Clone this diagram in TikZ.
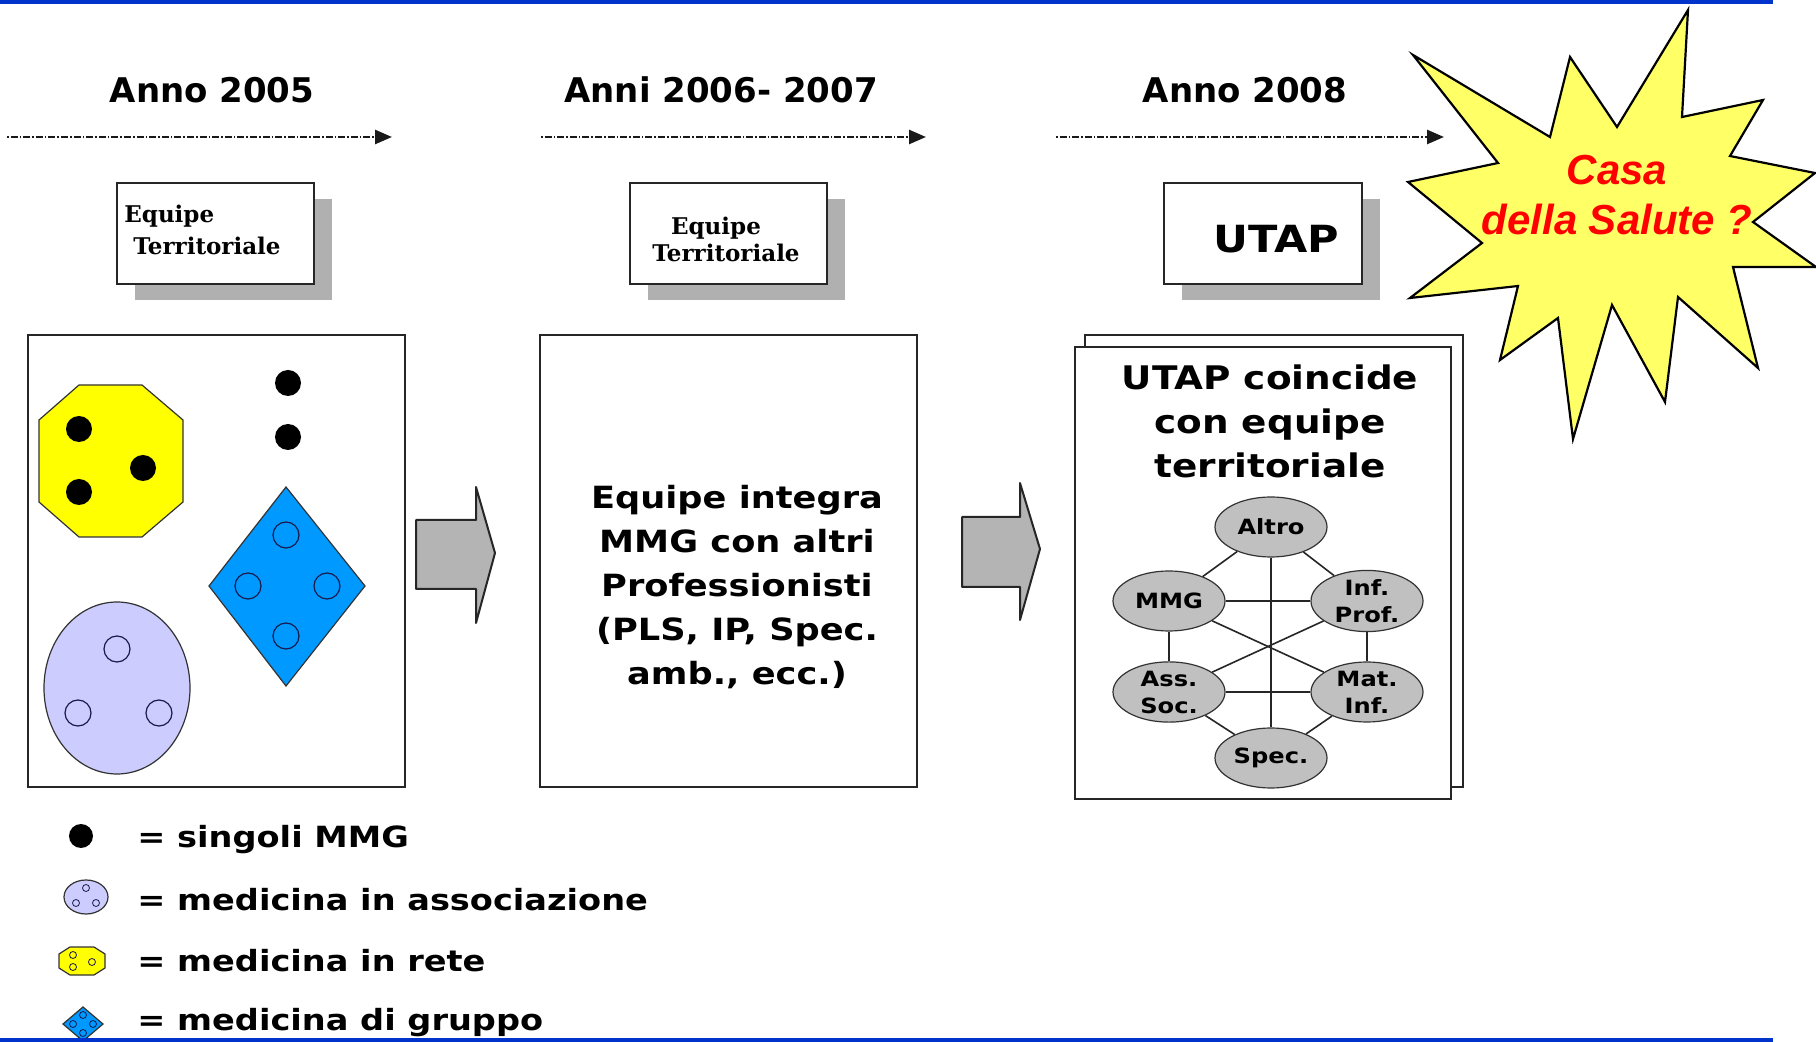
\documentclass[tikz,border=0pt]{standalone}
\usepackage{fontspec}
\usetikzlibrary{arrows.meta,shapes.geometric,fit,shadows,backgrounds}
\newfontfamily\wsans[FakeStretch=1.15]{DejaVu Sans Bold}
\newfontfamily\bsans{DejaVu Sans Bold}
\newfontfamily\bserif{DejaVu Serif Bold}
\newfontfamily\redfont{Liberation Sans Bold Italic}
\definecolor{bluebar}{HTML}{0033CC}
\definecolor{shadowgray}{HTML}{B0B0B0}
\definecolor{arrowgray}{HTML}{B4B4B4}
\definecolor{netgray}{HTML}{C0C0C0}
\definecolor{yel}{HTML}{FFFF00}
\definecolor{staryel}{HTML}{FFFF66}
\definecolor{dblue}{HTML}{0099FF}
\definecolor{lav}{HTML}{CCCCFF}
\definecolor{boxline}{HTML}{262626}
\definecolor{ringcol}{HTML}{1A1A4D}
\definecolor{redtext}{HTML}{FF0000}
\begin{document}
\begin{tikzpicture}[x=0.5pt,y=-0.5pt,
  tbox/.style={draw=boxline, line width=1pt, fill=white, inner sep=0pt,
    general shadow={fill=shadowgray, shadow xshift=9pt, shadow yshift=-8pt}},
  bbox/.style={draw=boxline, line width=1pt, inner sep=0pt},
  anno/.style={font=\bsans\fontsize{17}{20}\selectfont, anchor=base, inner sep=0pt},
  eqtxt/.style={font=\bserif\fontsize{11.5}{14}\selectfont, inner sep=0pt},
  bigtxt/.style={font=\wsans\fontsize{15.3}{22}\selectfont, align=center, inner sep=0pt},
  timeline/.style={draw=black!90, line width=1.3pt, dash pattern=on 0.8pt off 1pt on 3.5pt off 1pt,
    -{Triangle[length=8.5pt,width=7pt]}},
  link/.style={draw=boxline, line width=1pt},
  net/.style={ellipse, draw=black!80, line width=0.6pt, fill=netgray, minimum width=56pt,
    minimum height=30pt, inner sep=0pt, align=center, font=\wsans\fontsize{10.5}{13.5}\selectfont},
  netline/.style={draw=black!85, line width=0.8pt},
  blockarrow/.style={draw=black!85, line width=1pt, fill=arrowgray, line join=round},
  thinline/.style={draw=black!80, line width=0.6pt},
  ring/.style={draw=ringcol, line width=0.6pt},
  ringsmall/.style={draw=ringcol, line width=0.4pt},
  legendtxt/.style={font=\wsans\fontsize{14.6}{17}\selectfont, anchor=base west, inner sep=0pt},
  bar/.style={draw=bluebar}
]
\useasboundingbox (0,0) rectangle (1816,1042);
\fill[white] (0,0) rectangle (1816,1042);

% ---- timeline headings
\node[anno] (y1) at (212,103) {Anno 2005};
\node[anno] (y2) at (721,103) {Anni 2006- 2007};
\node[anno] (y3) at (1245,103) {Anno 2008};

\coordinate (a1s) at (7,137);    \coordinate (a1e) at (392,137);
\coordinate (a2s) at (541,137);  \coordinate (a2e) at (926,137);
\coordinate (a3s) at (1056,137); \coordinate (a3e) at (1444,137);
\draw[timeline] (a1s) -- (a1e);
\draw[timeline] (a2s) -- (a2e);
\draw[timeline] (a3s) -- (a3e);

% ---- top boxes
\node[tbox, fit={(117,183) (314,284)}] (tb1) {};
\node[tbox, fit={(630,183) (827,284)}] (tb2) {};
\node[tbox, fit={(1164,183) (1362,284)}] (tb3) {};

\node[eqtxt, anchor=base west] (e1a) at (124,223) {Equipe};
\node[eqtxt, anchor=base west] (e1b) at (133,255) {Territoriale};
\node[eqtxt, anchor=base] (e2a) at (716,235) {Equipe};
\node[eqtxt, anchor=base] (e2b) at (726,262) {Territoriale};
\node[font=\wsans\fontsize{18.7}{22}\selectfont, anchor=base west, inner sep=0pt] (utap) at (1213,253) {UTAP};

% ---- big boxes
\node[bbox, fill=white, fit={(28,335) (405,787)}] (bb1) {};
\node[bbox, fill=white, fit={(540,335) (917,787)}] (bb2) {};
\node[bbox, fit={(1085,335) (1463,787)}] (bb3b) {};
\node[bbox, fill=white, fit={(1075,347) (1451,799)}] (bb3) {};

\begin{scope}[on background layer]
  \draw[link] (tb1.south) -- (bb1.north);
  \draw[link] (tb2.south) -- (bb2.north);
  \draw[link] (tb3.south) -- (bb3.north);
\end{scope}

% ---- box 1 content
\draw[thinline, fill=yel] (79,385) -- (142,385) -- (183,420) -- (183,502) -- (142,537) -- (79,537) -- (39,502) -- (39,420) -- cycle;
\fill[black] (79,429) circle[radius=13];
\fill[black] (143,468) circle[radius=13];
\fill[black] (79,492) circle[radius=13];
\fill[black] (288,383) circle[radius=13];
\fill[black] (288,437) circle[radius=13];
\draw[thinline, fill=dblue] (286,487) -- (365,586) -- (286,686) -- (209,586) -- cycle;
\draw[ring] (286,535) circle[radius=13];
\draw[ring] (248,586) circle[radius=13];
\draw[ring] (327,586) circle[radius=13];
\draw[ring] (286,636) circle[radius=13];
\draw[thinline, fill=lav] (117,688) ellipse[x radius=73, y radius=86];
\draw[ring] (117,649) circle[radius=13];
\draw[ring] (78,713) circle[radius=13];
\draw[ring] (159,713) circle[radius=13];

% ---- block arrows
\draw[blockarrow] (416,520) -- (476,520) -- (476,487) -- (495,553) -- (476,623) -- (476,589) -- (416,589) -- cycle;
\draw[blockarrow] (962,517) -- (1020,517) -- (1020,483) -- (1040,549) -- (1020,620) -- (1020,587) -- (962,587) -- cycle;

% ---- box 2 text
\node[bigtxt] (t2) at (737,587) {Equipe integra\\MMG con altri\\Professionisti\\(PLS, IP, Spec.\\amb., ecc.)};

% ---- box 3 content
\node[bigtxt, font=\wsans\fontsize{16.25}{22}\selectfont] (t3) at (1270,421) {UTAP coincide\\con equipe\\territoriale};
\node[net] (altro) at (1271,527) {Altro};
\node[net] (mmg) at (1169,601) {MMG};
\node[net] (inf) at (1367,601) {Inf.\\Prof.};
\node[net] (ass) at (1169,692) {Ass.\\Soc.};
\node[net] (mat) at (1367,692) {Mat.\\Inf.};
\node[net] (spec) at (1271,758) {Spec.};
\draw[netline] (altro) -- (mmg);
\draw[netline] (altro) -- (inf);
\draw[netline] (altro) -- (spec);
\draw[netline] (mmg) -- (inf);
\draw[netline] (mmg) -- (ass);
\draw[netline] (inf) -- (mat);
\draw[netline] (mmg) -- (mat);
\draw[netline] (inf) -- (ass);
\draw[netline] (ass) -- (mat);
\draw[netline] (ass) -- (spec);
\draw[netline] (mat) -- (spec);

% ---- star
\draw[line width=1.1pt, line join=miter, fill=staryel] (1688,10) -- (1682,117) -- (1763,100) -- (1730,156) -- (1815,173) -- (1753,222) -- (1816,267) -- (1733,267) -- (1758,368) -- (1678,297) -- (1665,402) -- (1612,305) -- (1573,439) -- (1558,318) -- (1500,360) -- (1518,286) -- (1410,298) -- (1482,243) -- (1408,182) -- (1498,163) -- (1413,55) -- (1550,137) -- (1570,57) -- (1617,127) -- cycle;
\node[font=\redfont\fontsize{21}{25}\selectfont, text=redtext, align=center, inner sep=0pt] (casa) at (1617,195) {Casa\\della Salute ?};

% ---- legend
\fill[black] (81,836) circle[radius=12];
\draw[thinline, fill=lav] (86,897) ellipse[x radius=22, y radius=17];
\draw[ringsmall] (86,888) circle[radius=3.5];
\draw[ringsmall] (76,903) circle[radius=3.5];
\draw[ringsmall] (96,903) circle[radius=3.5];
\draw[thinline, fill=yel] (70,947) -- (94,947) -- (105,954) -- (105,968) -- (94,975) -- (70,975) -- (59,968) -- (59,954) -- cycle;
\draw[ringsmall] (73,955) circle[radius=3.5];
\draw[ringsmall] (73,967) circle[radius=3.5];
\draw[ringsmall] (92,962) circle[radius=3.5];
\draw[thinline, fill=dblue] (83,1007) -- (103,1024) -- (83,1041) -- (63,1024) -- cycle;
\draw[ringsmall] (83,1015) circle[radius=3.5];
\draw[ringsmall] (73,1024) circle[radius=3.5];
\draw[ringsmall] (93,1024) circle[radius=3.5];
\draw[ringsmall] (83,1033) circle[radius=3.5];
\node[legendtxt] (l1) at (137,847) {= singoli MMG};
\node[legendtxt] (l2) at (137,910) {= medicina in associazione};
\node[legendtxt] (l3) at (137,971) {= medicina in rete};
\node[legendtxt] (l4) at (137,1030) {= medicina di gruppo};

% ---- blue bars
\draw[bar, line width=2pt] (0,2) -- (1773,2);
\draw[bar, line width=1.6pt] (0,1040) -- (1773,1040);
\end{tikzpicture}
\end{document}
